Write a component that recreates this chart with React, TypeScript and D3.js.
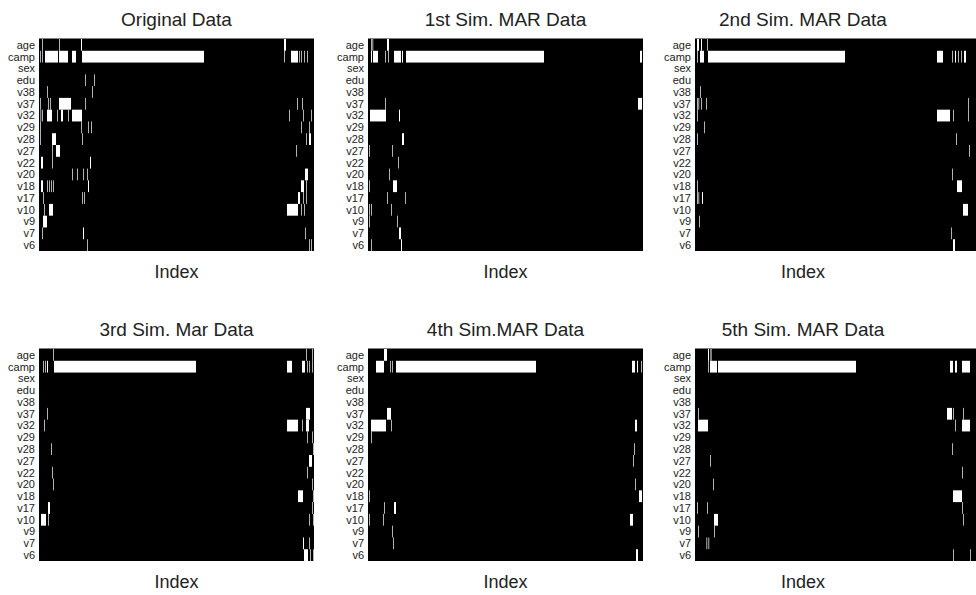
import React from "react";
import * as d3 from "d3";

// Variables (rows, top to bottom)
const variables = ["age","camp","sex","edu","v38","v37","v32","v29","v28","v27","v22","v20","v18","v17","v10","v9","v7","v6"];

const panelTitles = ["Original Data","1st Sim. MAR Data","2nd Sim. MAR Data","3rd Sim. Mar Data","4th Sim.MAR Data","5th Sim. MAR Data"];

// Index domain of observations
const indexMax = 275;

type Seg = [number, number];
type Missing = Record<string, Seg[]>;

// Missing-value runs [start, end] per variable (start === end: single observation)
const original: Missing = {
  age: [[3,3],[20,20],[42,43],[245,247]],
  camp: [[1,1],[3,3],[6,19],[20,29],[33,37],[43,165],[245,245],[252,259],[260,260],[262,262],[265,265],[268,268]],
  edu: [[46,46],[55,55]],
  v38: [[8,8],[53,53]],
  v37: [[1,1],[9,9],[11,11],[20,32],[46,46],[258,258],[263,263]],
  v32: [[1.5,1.5],[3,3],[8,13],[18,18],[22,24],[29,29],[33,43],[250,250],[264,264],[272,272]],
  v29: [[1,1],[42,42],[49,49],[52,52],[262,262],[270,270]],
  v28: [[1,1],[13,17],[43,43],[267,267],[270,272]],
  v27: [[13,13],[17,21],[257,257]],
  v22: [[2,4],[13,13],[51,52]],
  v20: [[33,33],[38,38],[44,44],[48,48],[266,269]],
  v18: [[2,4],[8,8],[10,10],[12,12],[14,14],[49,50],[262,265],[267,267]],
  v17: [[4,4],[43,43],[45,45],[259,261],[264,264],[267,267]],
  v10: [[5,5],[10,14],[248,259],[262,262],[265,265]],
  v9: [[4,8]],
  v7: [[3,3],[44,45],[266,266]],
  v6: [[48,48],[270,270],[272,272]],
};

const sim1: Missing = {
  age: [[3,3],[4.5,4.5],[19,21]],
  camp: [[3,4],[5,10],[17,17],[20,20],[26,33],[34,35],[38,176],[272,274]],
  v37: [[17,17],[270,274]],
  v32: [[2,18],[31,32]],
  v28: [[34,36]],
  v27: [[1,1],[24,24]],
  v22: [[30,30]],
  v20: [[21,21]],
  v18: [[1,1],[25,29]],
  v17: [[19,19],[37,37]],
  v10: [[1,1],[3,3],[23,23]],
  v9: [[1,1],[29,29]],
  v7: [[31,33]],
  v6: [[3,3],[33,34]],
};

const sim2: Missing = {
  age: [[2,4],[6,7],[12,12]],
  camp: [[2,2],[5,9],[13,150],[242,248],[257,257],[260,261],[263,263],[266,266],[269,271]],
  v38: [[5,5]],
  v37: [[2,2],[3.5,3.5],[6,6],[11,11],[273,273]],
  v32: [[2,2],[242,255],[258,258],[273,273]],
  v29: [[9,9]],
  v28: [[2,2],[261,261]],
  v27: [[274,274]],
  v20: [[257,257]],
  v18: [[2,2],[262,267]],
  v17: [[2,2],[3.5,3.5],[7,8]],
  v10: [[268,273]],
  v9: [[4,4]],
  v7: [[256,256]],
  v6: [[258,260]],
};

const sim3: Missing = {
  age: [[14,14],[267,267],[273,273]],
  camp: [[4,4],[6,6],[8,9],[15,157],[248,253],[263,266],[268,268],[270,270],[273,273]],
  v37: [[8,8],[267,271]],
  v32: [[5,5],[248,259],[263,263],[267,270]],
  v29: [[268,268],[273,273]],
  v28: [[12,12],[274,274]],
  v27: [[270,273]],
  v22: [[13,13],[268,268]],
  v20: [[14,14],[273,273]],
  v18: [[259,264],[274,274]],
  v17: [[9,11],[273,273]],
  v10: [[2,7],[9,9],[270,270],[274,274]],
  v7: [[264,265],[270,270]],
  v6: [[265,269],[271,271],[274,274]],
};

const sim4: Missing = {
  age: [[16,19]],
  camp: [[8,16],[22,22],[24,24],[28,168],[264,267],[269,270],[273,273]],
  v37: [[19,23]],
  v32: [[3,18],[23,23],[267,269]],
  v29: [[3,3]],
  v28: [[266,266]],
  v27: [[265,265]],
  v20: [[267,267]],
  v18: [[1,1],[271,274]],
  v17: [[16,16],[26,28]],
  v10: [[1,1],[15,15],[262,265]],
  v9: [[24,24]],
  v7: [[25,25]],
  v6: [[268,270]],
};

const sim5: Missing = {
  age: [[13,14],[15.5,16.5]],
  camp: [[13,13],[15,22],[23,161],[255,258],[260,262],[267,275]],
  v37: [[3,3],[252,257],[258,258],[268,268]],
  v32: [[3,13],[260,260],[267,275]],
  v28: [[257,257]],
  v27: [[15,15]],
  v22: [[267,267]],
  v20: [[18,18]],
  v18: [[258,267]],
  v17: [[2,2],[12,12],[267,267]],
  v10: [[19,23],[268,268]],
  v9: [[3,3],[19,19]],
  v7: [[11.5,11.5],[13.5,13.5]],
  v6: [[258,258],[275,275]],
};

const panelData: Missing[] = [original, sim1, sim2, sim3, sim4, sim5];

const panelLefts = [39, 368, 695];
const panelTops = [39, 349];
const panelW = 275;
const panelH = 212;
const W = 976;
const H = 595;
const font = "'Liberation Sans', Arial, Helvetica, sans-serif";

function Panel({ idx }: { idx: number }) {
  const col = idx % 3;
  const row = Math.floor(idx / 3);
  const left = panelLefts[col];
  const top = panelTops[row];
  const x = d3.scaleLinear().domain([0, indexMax]).range([left, left + panelW]);
  const y = d3.scaleBand<string>().domain(variables).range([top, top + panelH]).padding(0);
  const rectRight = col === 2 ? W : left + panelW;
  const titleX = col === 2 ? 803 : left + panelW / 2;
  const data = panelData[idx];
  return (
    <g>
      <text x={titleX} y={top - 13} textAnchor="middle" fontSize={19} fill="#222" fontFamily={font}>
        {panelTitles[idx]}
      </text>
      <rect x={left} y={top - 0.5} width={rectRight - left} height={panelH + 0.5} fill="#000" />
      {variables.map((v) =>
        (data[v] || []).map((s, i) => {
          const x0 = x(s[0]);
          const w = s[1] === s[0] ? 0.7 : Math.max(0.7, x(s[1]) - x0);
          return (
            <rect key={v + i} x={x0} y={y(v)!} width={w} height={y.bandwidth()} fill="#fff" />
          );
        })
      )}
      {variables.map((v) => (
        <text
          key={"l" + v}
          x={left - 4}
          y={y(v)! + y.bandwidth() / 2}
          dy="0.35em"
          textAnchor="end"
          fontSize={11}
          fill="#222"
          fontFamily={font}
        >
          {v}
        </text>
      ))}
      <text x={titleX} y={top + panelH + 27} textAnchor="middle" fontSize={18} fill="#222" fontFamily={font}>
        Index
      </text>
    </g>
  );
}

export default function App() {
  return (
    <svg width={W} height={H} style={{ position: "absolute", left: 0, top: 0, background: "#fff" }}>
      <rect x={0} y={0} width={W} height={H} fill="#fff" />
      {panelTitles.map((_, i) => (
        <Panel key={i} idx={i} />
      ))}
    </svg>
  );
}
